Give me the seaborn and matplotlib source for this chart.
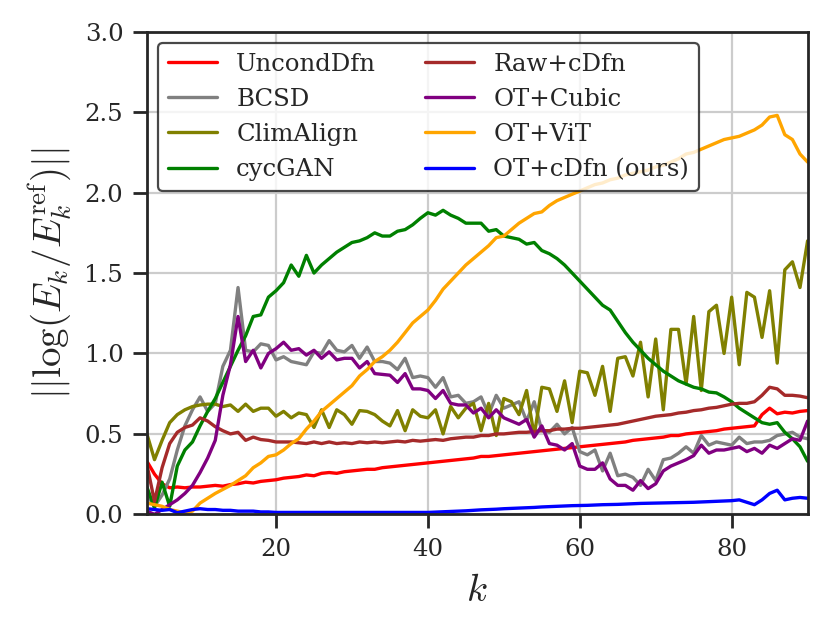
import numpy as np
import matplotlib
matplotlib.use("Agg")
import matplotlib.pyplot as plt
import seaborn as sns

# =====================================================
# Data, k = 3 .. 90
# =====================================================

k = np.arange(3, 91)

uncond_dfn = [
    0.33, 0.25, 0.19, 0.165, 0.17, 0.165, 0.17,
    0.17, 0.175, 0.18, 0.175, 0.185, 0.19, 0.2, 0.195, 0.205, 0.21,
    0.215, 0.225, 0.23, 0.235, 0.245, 0.24, 0.255, 0.26, 0.255, 0.265,
    0.27, 0.275, 0.28, 0.28, 0.29, 0.295, 0.3, 0.305, 0.31, 0.315,
    0.32, 0.325, 0.33, 0.335, 0.34, 0.345, 0.35, 0.36, 0.36, 0.365,
    0.37, 0.375, 0.38, 0.385, 0.39, 0.395, 0.4, 0.405, 0.41, 0.415,
    0.42, 0.425, 0.43, 0.435, 0.44, 0.445, 0.45, 0.46, 0.465, 0.47,
    0.475, 0.48, 0.49, 0.49, 0.5, 0.505, 0.51, 0.515, 0.52, 0.53,
    0.535, 0.54, 0.545, 0.55, 0.62, 0.66, 0.625, 0.635, 0.63, 0.64,
    0.645,
]

bcsd = [
    0.12, 0.05, 0.12, 0.22, 0.40, 0.55, 0.65,
    0.73, 0.64, 0.69, 0.92, 1.02, 1.41, 1.02, 1.01, 1.06, 1.05,
    0.96, 0.98, 0.95, 0.94, 0.93, 1.01, 1.00, 1.08, 1.02, 1.01,
    1.05, 0.97, 1.04, 0.95, 0.95, 0.94, 0.90, 0.97, 0.85, 0.86,
    0.85, 0.79, 0.85, 0.73, 0.74, 0.69, 0.70, 0.73, 0.62, 0.74,
    0.66, 0.68, 0.70, 0.58, 0.70, 0.52, 0.51, 0.56, 0.50, 0.54,
    0.39, 0.37, 0.40, 0.27, 0.38, 0.24, 0.25, 0.23, 0.18, 0.28,
    0.21, 0.34, 0.35, 0.38, 0.42, 0.38, 0.49, 0.43, 0.45, 0.44,
    0.43, 0.48, 0.44, 0.45, 0.45, 0.46, 0.49, 0.50, 0.51, 0.48,
    0.47,
]

clim_align = [
    0.50, 0.34, 0.46, 0.57, 0.62, 0.65, 0.67,
    0.68, 0.685, 0.685, 0.67, 0.68, 0.64, 0.685, 0.64, 0.66, 0.66,
    0.61, 0.64, 0.60, 0.63, 0.62, 0.54, 0.65, 0.54, 0.65, 0.62,
    0.56, 0.645, 0.64, 0.62, 0.58, 0.55, 0.645, 0.52, 0.65, 0.61,
    0.60, 0.65, 0.50, 0.67, 0.60, 0.66, 0.69, 0.52, 0.69, 0.49,
    0.72, 0.70, 0.62, 0.77, 0.49, 0.79, 0.78, 0.64, 0.83, 0.57,
    0.89, 0.88, 0.74, 0.92, 0.64, 0.97, 0.98, 0.86, 1.07, 0.73,
    1.09, 0.65, 1.15, 1.15, 0.81, 1.23, 0.77, 1.26, 1.30, 1.00,
    1.35, 0.93, 1.38, 1.35, 1.10, 1.39, 0.94, 1.52, 1.57, 1.41,
    1.70,
]

cyc_gan = [
    0.17, 0.04, 0.20, 0.05, 0.30, 0.40, 0.45,
    0.55, 0.64, 0.72, 0.82, 0.92, 1.02, 1.11, 1.23, 1.24, 1.35,
    1.39, 1.44, 1.55, 1.48, 1.61, 1.50, 1.55, 1.59, 1.63, 1.66,
    1.69, 1.70, 1.72, 1.75, 1.73, 1.73, 1.76, 1.77, 1.80, 1.84,
    1.875, 1.86, 1.89, 1.86, 1.84, 1.81, 1.81, 1.81, 1.76, 1.77,
    1.73, 1.72, 1.71, 1.68, 1.69, 1.64, 1.62, 1.59, 1.55, 1.50,
    1.45, 1.40, 1.35, 1.30, 1.27, 1.20, 1.13, 1.07, 1.02, 0.97,
    0.93, 0.89, 0.86, 0.83, 0.81, 0.79, 0.78, 0.76, 0.755, 0.73,
    0.70, 0.66, 0.63, 0.60, 0.57, 0.56, 0.57, 0.51, 0.47, 0.42,
    0.33,
]

raw_cdfn = [
    0.31, 0.08, 0.29, 0.44, 0.51, 0.54, 0.555,
    0.60, 0.58, 0.545, 0.52, 0.50, 0.51, 0.46, 0.48, 0.465, 0.46,
    0.45, 0.45, 0.45, 0.445, 0.44, 0.45, 0.44, 0.45, 0.44, 0.445,
    0.44, 0.45, 0.445, 0.45, 0.445, 0.45, 0.455, 0.45, 0.46, 0.455,
    0.46, 0.465, 0.46, 0.47, 0.475, 0.48, 0.48, 0.49, 0.49, 0.50,
    0.50, 0.505, 0.51, 0.51, 0.515, 0.52, 0.52, 0.53, 0.53, 0.535,
    0.535, 0.54, 0.545, 0.55, 0.555, 0.56, 0.57, 0.58, 0.59, 0.60,
    0.61, 0.615, 0.62, 0.63, 0.635, 0.645, 0.65, 0.66, 0.665, 0.675,
    0.685, 0.69, 0.69, 0.70, 0.74, 0.79, 0.78, 0.74, 0.74, 0.735,
    0.725,
]

ot_cubic = [
    0.02, 0.0, 0.03, 0.06, 0.09, 0.13, 0.18,
    0.26, 0.35, 0.46, 0.74, 0.93, 1.23, 0.95, 1.02, 0.91, 1.00,
    1.03, 1.07, 1.02, 1.03, 0.99, 1.02, 0.97, 1.01, 0.96, 0.97,
    0.97, 0.91, 0.95, 0.875, 0.87, 0.865, 0.82, 0.875, 0.78, 0.78,
    0.77, 0.72, 0.77, 0.69, 0.68, 0.68, 0.63, 0.66, 0.60, 0.65,
    0.60, 0.58, 0.56, 0.59, 0.48, 0.55, 0.44, 0.43, 0.40, 0.44,
    0.30, 0.28, 0.28, 0.32, 0.22, 0.18, 0.18, 0.15, 0.21, 0.16,
    0.19, 0.27, 0.30, 0.32, 0.34, 0.365, 0.43, 0.38, 0.40, 0.40,
    0.41, 0.42, 0.39, 0.41, 0.38, 0.43, 0.41, 0.44, 0.47, 0.46,
    0.58,
]

ot_vit = [
    0.07, 0.06, 0.05, 0.03, 0.02, 0.01, 0.02,
    0.07, 0.10, 0.13, 0.155, 0.18, 0.21, 0.24, 0.29, 0.32, 0.36,
    0.37, 0.40, 0.44, 0.47, 0.53, 0.58, 0.64, 0.68, 0.72, 0.76,
    0.80, 0.86, 0.90, 0.95, 0.98, 1.02, 1.07, 1.13, 1.19, 1.23,
    1.27, 1.33, 1.40, 1.45, 1.50, 1.55, 1.59, 1.63, 1.67, 1.72,
    1.73, 1.77, 1.81, 1.84, 1.87, 1.88, 1.92, 1.95, 1.97, 1.99,
    2.01, 2.03, 2.05, 2.06, 2.08, 2.09, 2.11, 2.12, 2.13, 2.14,
    2.16, 2.17, 2.19, 2.21, 2.24, 2.25, 2.27, 2.29, 2.31, 2.33,
    2.34, 2.35, 2.37, 2.39, 2.42, 2.47, 2.48, 2.36, 2.33, 2.24,
    2.19,
]

ot_cdfn = [
    0.035, 0.03, 0.025, 0.03, 0.01, 0.02, 0.03,
    0.035, 0.03, 0.03, 0.025, 0.025, 0.02, 0.02, 0.02, 0.015, 0.015,
    0.012, 0.012, 0.012, 0.012, 0.012, 0.012, 0.012, 0.012, 0.012, 0.012,
    0.012, 0.012, 0.012, 0.012, 0.012, 0.012, 0.012, 0.012, 0.012, 0.012,
    0.012, 0.014, 0.016, 0.018, 0.02, 0.022, 0.025, 0.028, 0.03, 0.032,
    0.035, 0.037, 0.039, 0.041, 0.043, 0.046, 0.048, 0.05, 0.052, 0.054,
    0.055, 0.056, 0.058, 0.06, 0.061, 0.062, 0.064, 0.066, 0.068, 0.069,
    0.07, 0.071, 0.072, 0.073, 0.074, 0.075, 0.077, 0.079, 0.081, 0.083,
    0.085, 0.09, 0.075, 0.06, 0.09, 0.13, 0.15, 0.09, 0.10, 0.105,
    0.10,
]

methods = [
    "UncondDfn", "BCSD", "ClimAlign", "cycGAN",
    "Raw+cDfn", "OT+Cubic", "OT+ViT", "OT+cDfn (ours)",
]
series = [
    uncond_dfn, bcsd, clim_align, cyc_gan,
    raw_cdfn, ot_cubic, ot_vit, ot_cdfn,
]
colors = [
    "red", "gray", "olive", "green",
    "brown", "purple", "orange", "blue",
]

# =====================================================
# Style
# =====================================================

sns.set_theme(context="paper", style="ticks")
plt.rcParams["font.family"] = "serif"
plt.rcParams["font.serif"] = ["DejaVu Serif"]
plt.rcParams["mathtext.fontset"] = "cm"

# =====================================================
# Plot
# =====================================================

fig, ax = plt.subplots(figsize=(4.15, 3.175), dpi=200)
fig.subplots_adjust(left=0.177, right=0.973, top=0.95, bottom=0.19)

for name, vals, c in zip(methods, series, colors):
    sns.lineplot(x=k, y=vals, color=c, label=name, ax=ax, linewidth=1.2)

ax.set_xlim(3, 90)
ax.set_ylim(0, 3)
ax.set_xticks([20, 40, 60, 80])
ax.set_yticks([0.0, 0.5, 1.0, 1.5, 2.0, 2.5, 3.0])
ax.tick_params(labelsize=8.8, length=5, width=1.0)
ax.grid(True)

ax.set_xlabel(r"$k$", fontsize=14)
ax.set_ylabel(r"$||\log(E_k/E_k^{\rm ref})||$", fontsize=14)

leg = ax.legend(ncol=2, loc="upper left", frameon=True, edgecolor="0.1",
                fontsize=8.8, borderaxespad=0.45)
leg.get_frame().set_linewidth(0.8)

plt.savefig("out.png", dpi=200)
plt.close()
